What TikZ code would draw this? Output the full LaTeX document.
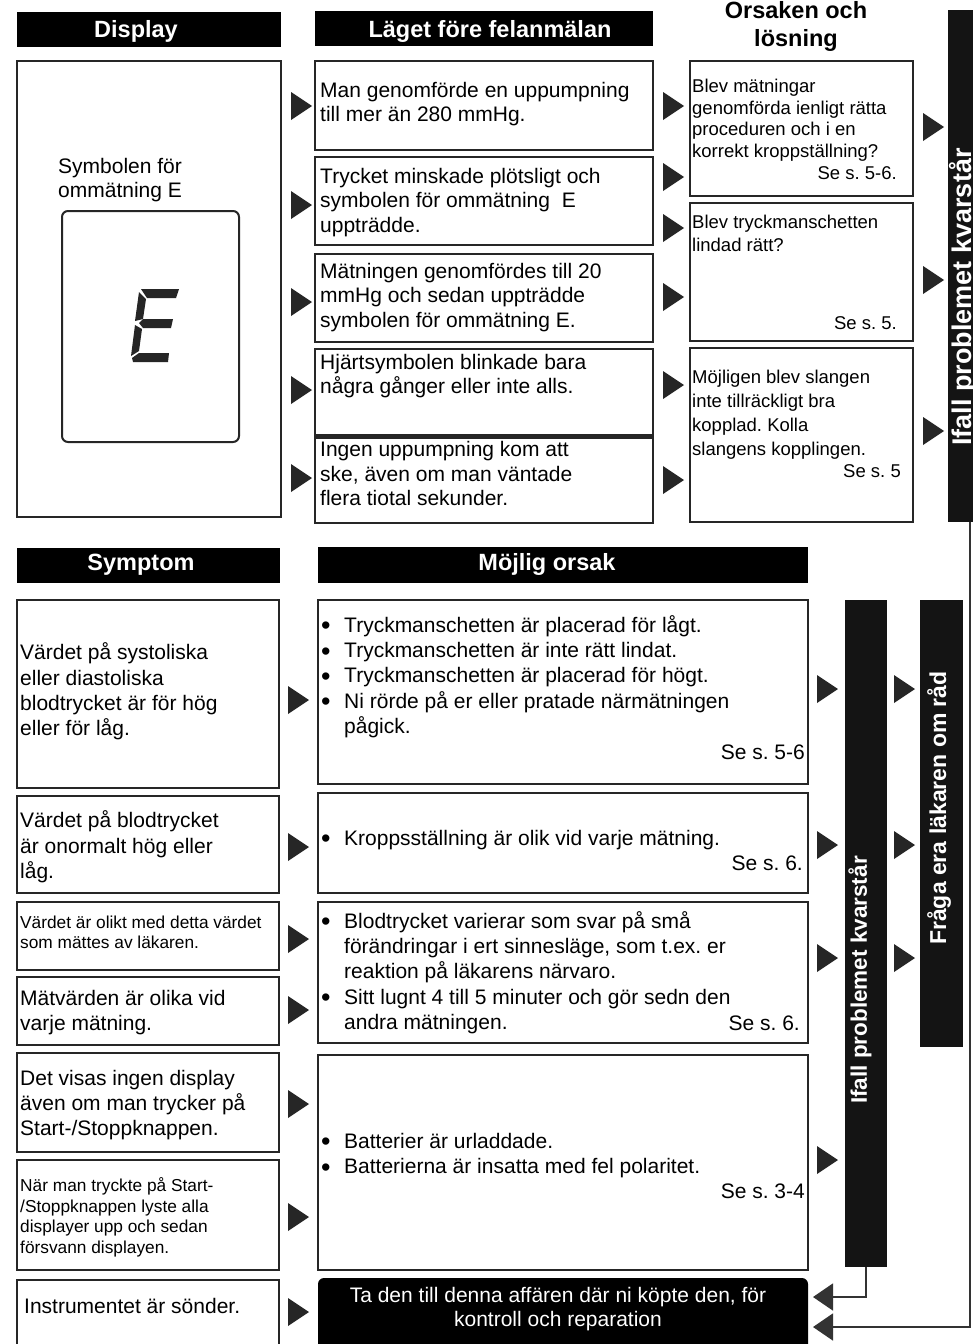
\documentclass[tikz,border=0pt]{standalone}
\usepackage{fontspec}
\setmainfont{Liberation Sans}
\usetikzlibrary{arrows.meta,fit}
\frenchspacing
\newcommand{\blt}{\raisebox{-2.5pt}{\fontsize{27}{27}\selectfont\textbullet}}
\begin{document}
\begin{tikzpicture}[x=1pt, y=-1pt,
        fbox/.style={draw=black!85, line width=2.4pt, inner sep=0pt},
        hbar/.style={fill=black, inner sep=0pt},
        vbar/.style={fill=black!92, inner sep=0pt},
        txt/.style={inner sep=0pt, align=left, anchor=north west, font=\fontsize{21}{24.7}\selectfont},
        stxt/.style={txt, font=\fontsize{18.5}{21.5}\selectfont},
        ttxt/.style={txt, font=\fontsize{17.3}{20.5}\selectfont},
        btxt/.style={txt, font=\fontsize{21}{25.3}\selectfont},
        htxt/.style={inner sep=0pt, anchor=base, text=white, font=\bfseries\fontsize{23.5}{28}\selectfont},
        vtxt/.style={inner sep=0pt, rotate=90, text=white, font=\bfseries\fontsize{#1}{#1}\selectfont},
        seref/.style={inner sep=0pt, anchor=base east, font=\fontsize{21}{25}\selectfont},
        sseref/.style={seref, font=\fontsize{18.5}{22}\selectfont},
        tri/.pic={\fill[black!85] (-10,-14) -- (11,0) -- (-10,14) -- cycle;},
        conn/.style={draw=black!80, line width=1.6pt, -{Triangle[length=20pt, width=27pt]}}]
        \path[use as bounding box, fill=white] (0,0) rectangle (973,1344);

        \node[hbar, fit={(17,12) (281,47)}] (hdisp) {};
        \node[htxt] (hdispt) at (136,37) {Display};
        \node[hbar, fit={(315,11) (653,46)}] (hlaget) {};
        \node[htxt] (hlagett) at (490,37) {Läget före felanmälan};
        \node[htxt, text=black, anchor=north, align=center] (horsak) at (796,1) {Orsaken och\\lösning};

        \node[fbox, fit={(17,61) (281,517)}] (disp) {};
        \node[txt] (dispt) at (58,157.7) {Symbolen för\\ommätning E};
        \node[fbox, line width=2pt, rounded corners=6pt, fit={(62,211) (239,442)}] (lcd) {};
        \fill[black!85] (141,289) -- (179,289) -- (176,298) -- (147,298) -- cycle;
        \fill[black!85] (139,292) -- (146,299) -- (143,319) -- (135,321) -- cycle;
        \fill[black!85] (139,323) -- (143,319) -- (173,319) -- (171,328) -- (143,328) -- cycle;
        \fill[black!85] (135,325) -- (142,329) -- (139,351) -- (131,356) -- cycle;
        \fill[black!85] (132,358) -- (139,353) -- (169,353) -- (168,362) -- (133,362) -- cycle;

        \node[fbox, fit={(315,61) (653,150)}] (m1) {};
        \node[fbox, fit={(315,157) (653,245)}] (m2) {};
        \node[fbox, fit={(315,254) (653,342)}] (m3) {};
        \node[fbox, fit={(315,349) (653,435.5)}] (m4) {};
        \node[fbox, fit={(315,438) (653,523)}] (m5) {};
        \node[txt] (m1t) at (320,81.7) {Man genomförde en uppumpning\\till mer än 280 mmHg.};
        \node[txt] (m2t) at (320,167.7) {Trycket minskade plötsligt och\\symbolen för ommätning\ \ E\\uppträdde.};
        \node[txt] (m3t) at (320,262.7) {Mätningen genomfördes till 20\\mmHg och sedan uppträdde\\symbolen för ommätning E.};
        \node[txt] (m4t) at (320,353.7) {Hjärtsymbolen blinkade bara\\några gånger eller inte alls.};
        \node[txt] (m5t) at (320,441) {Ingen uppumpning kom att\\ske, även om man väntade\\flera tiotal sekunder.};

        \node[fbox, fit={(690,61) (913,196)}] (r1) {};
        \node[fbox, fit={(690,203) (913,341)}] (r2) {};
        \node[fbox, fit={(690,348) (913,522)}] (r3) {};
        \node[stxt] (r1t) at (692,79.2) {Blev mätningar\\genomförda ienligt rätta\\proceduren och i en\\korrekt kroppställning?};
        \node[sseref] (r1s) at (897,179) {Se s. 5-6.};
        \node[stxt, font=\fontsize{18.5}{23}\selectfont] (r2t) at (692,214.5) {Blev tryckmanschetten\\lindad rätt?};
        \node[sseref] (r2s) at (897,329) {Se s. 5.};
        \node[stxt, font=\fontsize{18.5}{24}\selectfont] (r3t) at (692,369.5) {Möjligen blev slangen\\inte tillräckligt bra\\kopplad. Kolla\\slangens kopplingen.};
        \node[sseref] (r3s) at (901,477) {Se s. 5};

        \node[vbar, fit={(948,10) (992,522)}] (ifall1) {};
        \node[vtxt=27] (ifall1t) at (963,297) {Ifall problemet kvarstår};

        \pic (a1) at (301,106) {tri};
        \pic (a2) at (301,205) {tri};
        \pic (a3) at (301,302) {tri};
        \pic (a4) at (301,390) {tri};
        \pic (a5) at (301,478) {tri};
        \pic (b1) at (673,106) {tri};
        \pic (b2) at (673,177) {tri};
        \pic (b3) at (673,228) {tri};
        \pic (b4) at (673,297) {tri};
        \pic (b5) at (673,385) {tri};
        \pic (b6) at (673,480) {tri};
        \pic (c1) at (933,127) {tri};
        \pic (c2) at (933,280) {tri};
        \pic (c3) at (933,431) {tri};

        \node[hbar, fit={(17,548) (280,583)}] (hsymp) {};
        \node[htxt] (hsympt) at (141,570) {Symptom};
        \node[hbar, fit={(318,547) (808,583)}] (hmoj) {};
        \node[htxt] (hmojt) at (547,570) {Möjlig orsak};

        \node[fbox, fit={(17,600) (279,788)}] (s1) {};
        \node[fbox, fit={(17,796) (279,893)}] (s2) {};
        \node[fbox, fit={(17,902) (279,970)}] (s3) {};
        \node[fbox, fit={(17,977) (279,1045)}] (s4) {};
        \node[fbox, fit={(17,1053) (279,1152)}] (s5) {};
        \node[fbox, fit={(17,1160) (279,1270)}] (s6) {};
        \node[fbox, fit={(17,1280) (279,1360)}] (s7) {};
        \node[txt, font=\fontsize{21}{25.3}\selectfont] (s1t) at (20,642.7) {Värdet på systoliska\\eller diastoliska\\blodtrycket är för hög\\eller för låg.};
        \node[txt, font=\fontsize{21}{25.3}\selectfont] (s2t) at (20,810.7) {Värdet på blodtrycket\\är onormalt hög eller\\låg.};
        \node[ttxt] (s3t) at (20,915.4) {Värdet är olikt med detta värdet\\som mättes av läkaren.};
        \node[txt, font=\fontsize{21}{25}\selectfont] (s4t) at (20,989.7) {Mätvärden är olika vid\\varje mätning.};
        \node[txt, font=\fontsize{21}{25}\selectfont] (s5t) at (20,1069.7) {Det visas ingen display\\även om man trycker på\\Start-/Stoppknappen.};
        \node[ttxt] (s6t) at (20,1177.4) {När man tryckte på Start-\\/Stoppknappen lyste alla\\displayer upp och sedan\\försvann displayen.};
        \node[txt] (s7t) at (24,1297.7) {Instrumentet är sönder.};

        \node[fbox, fit={(318,600) (808,784)}] (o1) {};
        \node[fbox, fit={(318,793) (808,893)}] (o2) {};
        \node[fbox, fit={(318,902) (808,1043)}] (o3) {};
        \node[fbox, fit={(318,1055) (808,1270)}] (o4) {};
        \node[btxt] (o1t) at (321,614.4) {\begin{tabular}{@{}p{23pt}@{}l@{}}
                \blt & Tryckmanschetten är placerad för lågt.\\
                \blt & Tryckmanschetten är inte rätt lindat.\\
                \blt & Tryckmanschetten är placerad för högt.\\
                \blt & Ni rörde på er eller pratade närmätningen\\
                & pågick.
            \end{tabular}};
        \node[seref] (o1s) at (805,759) {Se s. 5-6};
        \node[btxt] (o2t) at (321,827.4) {\begin{tabular}{@{}p{23pt}@{}l@{}}
                \blt & Kroppsställning är olik vid varje mätning.
            \end{tabular}};
        \node[seref] (o2s) at (803,870) {Se s. 6.};
        \node[btxt] (o3t) at (321,910.4) {\begin{tabular}{@{}p{23pt}@{}l@{}}
                \blt & Blodtrycket varierar som svar på små\\
                & förändringar i ert sinnesläge, som t.ex.\ er\\
                & reaktion på läkarens närvaro.\\
                \blt & Sitt lugnt 4 till 5 minuter och gör sedn den\\
                & andra mätningen.
            \end{tabular}};
        \node[seref] (o3s) at (800,1030) {Se s. 6.};
        \node[btxt] (o4t) at (321,1130.4) {\begin{tabular}{@{}p{23pt}@{}l@{}}
                \blt & Batterier är urladdade.\\
                \blt & Batterierna är insatta med fel polaritet.
            \end{tabular}};
        \node[seref] (o4s) at (805,1198) {Se s. 3-4};

        \node[hbar, rounded corners=6pt, fit={(318,1278) (808,1360)}] (fix) {};
        \node[inner sep=0pt, anchor=north, align=center, text=white, font=\fontsize{21}{24}\selectfont] (fixt)
            at (558,1286.7) {Ta den till denna affären där ni köpte den, för\\kontroll och reparation};

        \node[vbar, fit={(845,600) (887,1267)}] (ifall2) {};
        \node[vtxt=22.5] (ifall2t) at (860,980) {Ifall problemet kvarstår};
        \node[vbar, fit={(920,600) (963,1047)}] (fraga) {};
        \node[vtxt=23] (fragat) at (939,808) {Fråga era läkaren om råd};

        \pic (d1) at (298,700) {tri};
        \pic (d2) at (298,847) {tri};
        \pic (d3) at (298,939) {tri};
        \pic (d4) at (298,1010) {tri};
        \pic (d5) at (298,1104) {tri};
        \pic (d6) at (298,1217) {tri};
        \pic (d7) at (298,1312) {tri};
        \pic (e1) at (827,689) {tri};
        \pic (e2) at (827,845) {tri};
        \pic (e3) at (827,958) {tri};
        \pic (e4) at (827,1160) {tri};
        \pic (f1) at (904,689) {tri};
        \pic (f2) at (904,845) {tri};
        \pic (f3) at (904,958) {tri};

        \coordinate (t1) at (813,1297);
        \coordinate (t2) at (813,1327);
        \draw[conn] (ifall2.south) |- (t1);
        \draw[conn] (ifall1.south) |- (t2);
\end{tikzpicture}
\end{document}
